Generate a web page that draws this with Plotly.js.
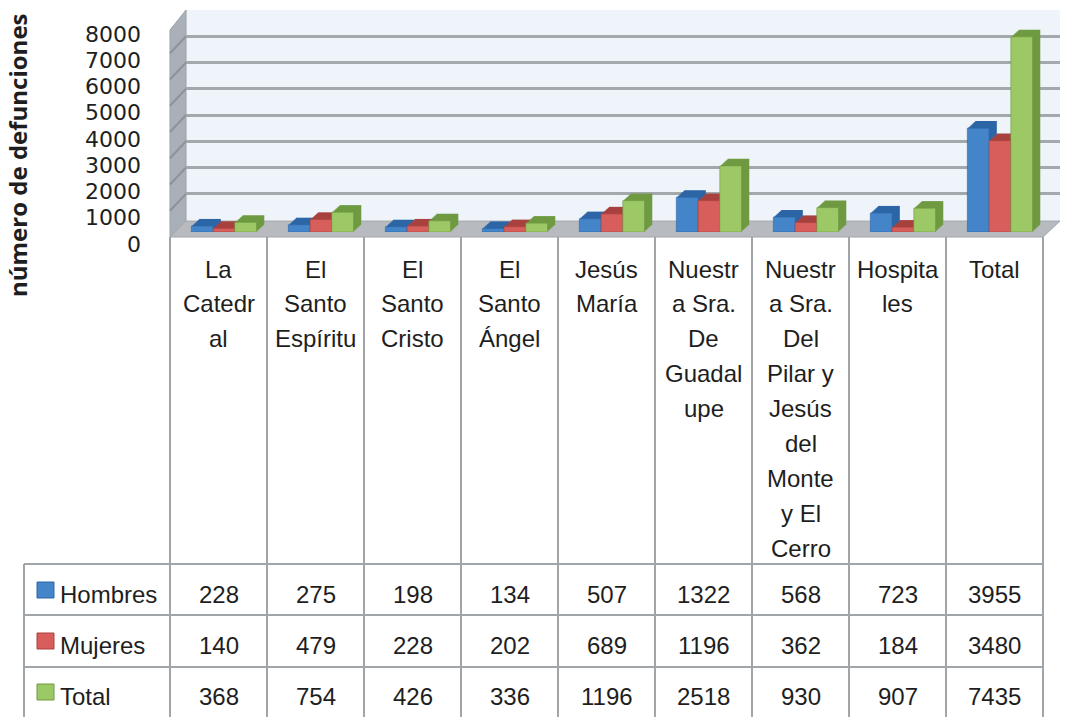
<!DOCTYPE html>
<html>
<head>
<meta charset="utf-8">
<script src="https://cdn.plot.ly/plotly-3.0.1.min.js"></script>
<style>
html,body{margin:0;padding:0;background:#fff;}
#chart{width:1065px;height:717px;}
</style>
</head>
<body>
<div id="chart"></div>
<script>
// ---------- data ----------
const categories = ["La Catedral","El Santo Espíritu","El Santo Cristo","El Santo Ángel","Jesús María","Nuestra Sra. De Guadalupe","Nuestra Sra. Del Pilar y Jesús del Monte y El Cerro","Hospitales","Total"];
const headerLines = [
  ["La","Catedr","al"],
  ["El","Santo","Espíritu"],
  ["El","Santo","Cristo"],
  ["El","Santo","Ángel"],
  ["Jesús","María"],
  ["Nuestr","a Sra.","De","Guadal","upe"],
  ["Nuestr","a Sra.","Del","Pilar y","Jesús","del","Monte","y El","Cerro"],
  ["Hospita","les"],
  ["Total"]
];
const seriesNames = ["Hombres","Mujeres","Total"];
const hombres = [228,275,198,134,507,1322,568,723,3955];
const mujeres = [140,479,228,202,689,1196,362,184,3480];
const totales = [368,754,426,336,1196,2518,930,907,7435];
const yTickValues = [0,1000,2000,3000,4000,5000,6000,7000,8000];
const yTitle = "número de defunciones";

// ---------- geometry helpers (layout only) ----------
const L = 170, R = 1060, T = 10, B = 232;
const px = X => (X - L) / (R - L);
const py = Y => (B - Y) / (B - T);

const series = [hombres, mujeres, totales];
const frontColors = ['#4485ca','#d75e5a','#9dc866'];
const sideColors  = ['#2d66a6','#a8423f','#6f9a42'];
const barW = 0.224, offs = [-0.28, -0.056, 0.168], depthX = 0.08, depthY = 270, steps = 8;

const traces = [];
// back wall subplot (xy) - holds the wall gridlines
traces.push({type:'scatter', x:[null], y:[null], xaxis:'x', yaxis:'y', showlegend:false, hoverinfo:'skip'});
// bars on the front plane (x2y2): extruded depth drawn as stepped copies, then the front face
series.forEach((vals, k) => {
  for (let j = steps; j >= 1; j--) {
    traces.push({type:'bar', x:categories, y:vals, base:depthY * j / steps, offset:offs[k] + depthX * j / steps,
      width:barW, xaxis:'x2', yaxis:'y2', marker:{color:sideColors[k], line:{width:0}}, hoverinfo:'skip', showlegend:false});
  }
  traces.push({type:'bar', x:categories, y:vals, offset:offs[k], width:barW,
    xaxis:'x2', yaxis:'y2', marker:{color:frontColors[k], line:{color:sideColors[k], width:0.6}},
    name:seriesNames[k], showlegend:false});
});

const shapes = [];
const annotations = [];
const gridCol = '#a3a8ad';

// back wall
shapes.push({type:'rect', xref:'paper', yref:'paper', x0:px(186), x1:px(1060), y0:py(220), y1:py(10),
  fillcolor:'#eef4f9', line:{width:0}, layer:'below'});
// left wall
shapes.push({type:'path', xref:'paper', yref:'paper', layer:'below',
  path:`M${px(170)},${py(30)} L${px(186)},${py(10)} L${px(186)},${py(221)} L${px(170)},${py(237)} Z`,
  fillcolor:'#a9b0b7', line:{color:'#9aa1a8', width:1}});
// left wall grid stubs
yTickValues.slice(1, 8).forEach(v => {
  const yb = 220 - v * 210 / 8000;
  shapes.push({type:'line', xref:'paper', yref:'paper', layer:'below',
    x0:px(170), y0:py(yb + 17), x1:px(186), y1:py(yb), line:{color:'#8c939a', width:2}});
});
// floor
shapes.push({type:'path', xref:'paper', yref:'paper', layer:'below',
  path:`M${px(170)},${py(237)} L${px(1043)},${py(237)} L${px(1060)},${py(221)} L${px(186)},${py(221)} Z`,
  fillcolor:'#b7bbbf', line:{color:'#a0a5aa', width:1}});

// table
const tCol = '#a0a5aa';
const colX = i => 170 + 97 * i;
for (let i = 0; i <= 9; i++) {
  shapes.push({type:'line', xref:'paper', yref:'paper', layer:'below',
    x0:px(colX(i)), x1:px(colX(i)), y0:py(237), y1:py(725), line:{color:tCol, width:2}});
}
[564, 615, 667].forEach(Y => {
  shapes.push({type:'line', xref:'paper', yref:'paper', layer:'below',
    x0:px(24), x1:px(1043), y0:py(Y), y1:py(Y), line:{color:tCol, width:2}});
});
shapes.push({type:'line', xref:'paper', yref:'paper', layer:'below',
  x0:px(24), x1:px(24), y0:py(564), y1:py(725), line:{color:tCol, width:2}});

const tFont = {family:'Liberation Sans, Arial, sans-serif', size:24, color:'#1e1e1e'};
// header lines
headerLines.forEach((lines, i) => {
  lines.forEach((txt, j) => {
    annotations.push({xref:'x2', yref:'paper', x:categories[i], y:py(269 + 34.9 * j),
      text:txt, showarrow:false, xanchor:'center', yanchor:'middle', font:tFont});
  });
});
// rows
const squareCenters = [590, 641, 692];
const textCenters = [594, 645, 696];
series.forEach((vals, k) => {
  shapes.push({type:'rect', xref:'paper', yref:'paper', layer:'below',
    x0:px(37), x1:px(54), y0:py(squareCenters[k] - 8), y1:py(squareCenters[k] + 8),
    fillcolor:frontColors[k], line:{color:sideColors[k], width:1}});
  annotations.push({xref:'paper', yref:'paper', x:px(58), y:py(textCenters[k]), text:seriesNames[k],
    showarrow:false, xanchor:'left', yanchor:'middle', font:tFont});
  vals.forEach((v, i) => {
    annotations.push({xref:'x2', yref:'paper', x:categories[i], y:py(textCenters[k]), text:String(v),
      showarrow:false, xanchor:'center', yanchor:'middle', font:tFont});
  });
});
// y title
annotations.push({xref:'paper', yref:'paper', x:px(17), y:py(155), text:'<b>' + yTitle + '</b>',
  textangle:-90, showarrow:false, xanchor:'center', yanchor:'middle',
  font:{family:'Open Sans, sans-serif', size:24, color:'#1e1e1e'}});

const layout = {
  width:1065, height:717,
  margin:{l:L, r:1065 - R, t:T, b:717 - B, pad:0},
  paper_bgcolor:'#ffffff', plot_bgcolor:'rgba(0,0,0,0)',
  showlegend:false, barmode:'overlay',
  xaxis:{domain:[px(186), 1], range:[0,1], visible:false, anchor:'y', fixedrange:true},
  yaxis:{domain:[py(220), 1], range:[0,8005], tickvals:yTickValues, showticklabels:false,
    showgrid:true, gridcolor:gridCol, gridwidth:3, zeroline:false, showline:false, ticks:'', anchor:'x', fixedrange:true},
  xaxis2:{domain:[0, px(1043)], range:[-0.5, 8.5], type:'category', showticklabels:false, showgrid:false,
    zeroline:false, showline:false, ticks:'', anchor:'y2', fixedrange:true},
  yaxis2:{domain:[0, py(22)], range:[0,8000], tickvals:yTickValues, showgrid:false, zeroline:false,
    showline:false, ticks:'', anchor:'x2', ticklabelstandoff:28, ticklabelshift:12,
    tickfont:{family:'DejaVu Sans, sans-serif', size:22, color:'#1e1e1e'}, fixedrange:true},
  shapes:shapes,
  annotations:annotations
};

Plotly.newPlot('chart', traces, layout, {displayModeBar:false, staticPlot:true});
</script>
</body>
</html>
